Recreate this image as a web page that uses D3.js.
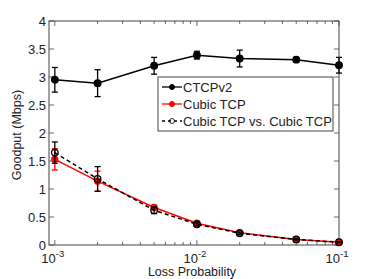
<!DOCTYPE html>
<meta charset="utf-8">
<script src="https://cdn.jsdelivr.net/npm/d3@7"></script>
<style>
body { margin: 0; background: #fff; }
text { font-family: "Liberation Sans", Arial, sans-serif; font-size: 12.5px; fill: #222; }
.line { fill: none; stroke-width: 1.5px; }
</style>
<svg width="374" height="279"></svg>
<script>

var lossProb = [0.001, 0.002, 0.005, 0.01, 0.02, 0.05, 0.1];

var ctcpMean = [2.95, 2.89, 3.20, 3.39, 3.33, 3.31, 3.21];
var ctcpErr  = [0.22, 0.24, 0.15, 0.07, 0.15, 0.04, 0.14];

var cubicMean = [1.53, 1.14, 0.67, 0.39, 0.22, 0.10, 0.05];
var cubicErr  = [0.19, 0.18, 0.04, 0.03, 0.02, 0.02, 0.01];

var cvcMean = [1.65, 1.18, 0.62, 0.37, 0.21, 0.10, 0.05];
var cvcErr  = [0.19, 0.22, 0.06, 0.03, 0.02, 0.01, 0.01];

var seriesNames = ["CTCPv2", "Cubic TCP", "Cubic TCP vs. Cubic TCP"];
var yTicks = [0, 0.5, 1, 1.5, 2, 2.5, 3, 3.5, 4];
var xTicks = [0.001, 0.01, 0.1];

var svg = d3.select("svg");
var margin = {left: 49, right: 35, top: 21, bottom: 34};
var width = 374 - margin.left - margin.right,
    height = 279 - margin.top - margin.bottom;

var g = svg.append("g").attr("transform", "translate(" + margin.left + "," + margin.top + ")");

var x = d3.scaleLog().domain([0.00091, 0.1]).range([0, width]);
var y = d3.scaleLinear().domain([0, 4]).range([height, 0]);

// minor log ticks
var minor = [];
[0.001, 0.01].forEach(function(d) { for (var k = 1; k < 10; k++) minor.push(d * k); });
minor.push(0.1);

var tickG = g.append("g").attr("stroke", "#444").attr("stroke-width", 0.8);
minor.forEach(function(d) {
  var len = xTicks.indexOf(d) >= 0 ? 5 : 3;
  tickG.append("line").attr("x1", x(d)).attr("x2", x(d)).attr("y1", height).attr("y2", height - len);
  tickG.append("line").attr("x1", x(d)).attr("x2", x(d)).attr("y1", 0).attr("y2", len);
});
yTicks.forEach(function(d) {
  tickG.append("line").attr("x1", 0).attr("x2", 5).attr("y1", y(d)).attr("y2", y(d));
  tickG.append("line").attr("x1", width).attr("x2", width - 5).attr("y1", y(d)).attr("y2", y(d));
});

// box
g.append("rect").attr("width", width).attr("height", height)
  .attr("fill", "none").attr("stroke", "#444").attr("stroke-width", 1);

// y tick labels
g.selectAll(".ylab").data(yTicks).enter().append("text")
  .attr("x", -3).attr("y", function(d) { return y(d) + 4.5; })
  .attr("text-anchor", "end")
  .style("font-size", "13px")
  .text(function(d) { return d; });

// x tick labels
xTicks.forEach(function(d) {
  var t = g.append("text").attr("x", x(d) - 2).attr("y", height + 18)
    .attr("text-anchor", "middle").style("font-size", "13px");
  t.append("tspan").text("10");
  t.append("tspan").attr("dy", -6).style("font-size", "9.5px").text(Math.round(Math.log10(d)));
});

// axis titles
g.append("text").attr("x", width / 2 - 2).attr("y", height + 31)
  .attr("text-anchor", "middle").text("Loss Probability");
svg.append("text").attr("transform", "translate(21," + (margin.top + height / 2 + 2) + ") rotate(-90)")
  .attr("text-anchor", "middle").text("Goodput (Mbps)");

function drawSeries(mean, err, color, dash, markerFill, r) {
  var data = lossProb.map(function(p, i) { return {p: p, m: mean[i], e: err[i]}; });
  var eg = g.append("g").attr("stroke", color).attr("stroke-width", 1.3);
  data.forEach(function(d) {
    eg.append("line").attr("x1", x(d.p)).attr("x2", x(d.p)).attr("y1", y(d.m - d.e)).attr("y2", y(d.m + d.e));
    [d.m - d.e, d.m + d.e].forEach(function(v) {
      eg.append("line").attr("x1", x(d.p) - 3).attr("x2", x(d.p) + 3).attr("y1", y(v)).attr("y2", y(v));
    });
  });
  var line = d3.line().x(function(d) { return x(d.p); }).y(function(d) { return y(d.m); });
  g.append("path").datum(data).attr("class", "line").attr("d", line)
    .attr("stroke", color).attr("stroke-dasharray", dash);
  g.selectAll(null).data(data).enter().append("circle")
    .attr("cx", function(d) { return x(d.p); }).attr("cy", function(d) { return y(d.m); })
    .attr("r", r).attr("fill", markerFill).attr("stroke", color).attr("stroke-width", 1.3);
}

drawSeries(cubicMean, cubicErr, "#ff0000", null, "#ff0000", 3);
drawSeries(cvcMean, cvcErr, "#000", "4,3", "none", 3.3);
drawSeries(ctcpMean, ctcpErr, "#000", null, "#000", 3.3);

// legend
var leg = g.append("g").attr("transform", "translate(" + (158 - margin.left) + "," + (77 - margin.top) + ")");
leg.append("rect").attr("width", 175).attr("height", 54)
  .attr("fill", "#fff").attr("stroke", "#444").attr("stroke-width", 1);
var legStyle = [
  {color: "#000", dash: null, fill: "#000", r: 2.5},
  {color: "#ff0000", dash: null, fill: "#ff0000", r: 2.5},
  {color: "#000", dash: "3,3", fill: "none", r: 2.5}
];
seriesNames.forEach(function(name, i) {
  var yy = 10 + i * 17;
  var s = legStyle[i];
  leg.append("line").attr("x1", 4).attr("x2", 24).attr("y1", yy).attr("y2", yy)
    .attr("stroke", s.color).attr("stroke-width", 1.3).attr("stroke-dasharray", s.dash);
  leg.append("circle").attr("cx", 14).attr("cy", yy).attr("r", s.r)
    .attr("fill", s.fill).attr("stroke", s.color).attr("stroke-width", s.fill === "none" ? 0.8 : 1);
  leg.append("text").attr("x", 25).attr("y", yy + 4.5).style("font-size", "13px").text(name);
});

</script>
